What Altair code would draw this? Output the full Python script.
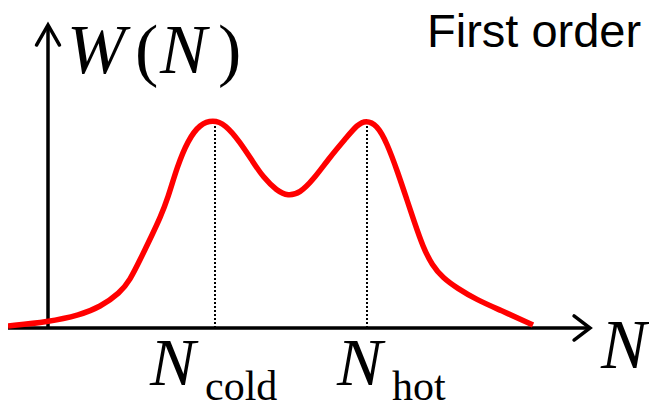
import altair as alt
import pandas as pd

# ---- data (schematic units: N measured from the W axis, W from the N axis) ----
curve_N = [-40, 0, 32, 52, 72, 82, 92, 105, 112, 120, 129, 140, 152, 165, 177, 192, 205, 215,
           229, 240, 252, 265, 282, 299, 309, 318, 329, 339, 350, 359, 366, 375, 384, 395,
           409, 429, 452, 485]
curve_W = [2, 6, 13, 21, 35, 48, 68, 95, 110, 130, 161, 188, 204, 208, 204, 186, 166, 151,
           137, 132, 135, 148, 171, 191, 203, 208, 203, 185, 155, 128, 107, 81, 63, 50,
           40, 28, 18, 3]

peak_N = [167, 319]
peak_W = [203, 203]

axis_N = [-40, 0]
axis_N2 = [542, 0]
axis_W = [0, 0]
axis_W2 = [0, 303]

arrow_N = [542, 0]
arrow_W = [0, 303]
arrow_shape = ["M-1.14,-0.86L0,0L-1.14,0.86", "M-0.82,1.43L0,0L0.82,1.43"]

italic_text = ["W", "N", "N", "N", "N"]
italic_N = [19, 112, 553, 102, 289]
italic_W = [255, 255, -40, -57, -57]
italic_size = [70, 70, 69, 68, 68]

roman_text = ["(", ")", "cold", "hot"]
roman_N = [87, 170, 157, 344]
roman_W = [255, 255, -72, -72]
roman_size = [70, 70, 42, 42]

sans_text = ["First order"]
sans_N = [379]
sans_W = [281]
sans_size = [47]

W_PX, H_PX = 641, 394
xs = alt.Scale(domain=[-40, -40 + W_PX], nice=False, zero=False)
ys = alt.Scale(domain=[-74, -74 + H_PX], nice=False, zero=False)

curve_df = pd.DataFrame({"N": curve_N, "W": curve_W})
peak_df = pd.DataFrame({"N": peak_N, "W": peak_W})
axis_df = pd.DataFrame({"N": axis_N, "N2": axis_N2, "W": axis_W, "W2": axis_W2})
arrow_df = pd.DataFrame({"N": arrow_N, "W": arrow_W, "shape": arrow_shape})
it_df = pd.DataFrame({"t": italic_text, "N": italic_N, "W": italic_W, "s": italic_size})
ro_df = pd.DataFrame({"t": roman_text, "N": roman_N, "W": roman_W, "s": roman_size})
sa_df = pd.DataFrame({"t": sans_text, "N": sans_N, "W": sans_W, "s": sans_size})

X = alt.X("N:Q", scale=xs, axis=None)
Y = alt.Y("W:Q", scale=ys, axis=None)

axes = alt.Chart(axis_df).mark_rule(color="black", strokeWidth=3.5).encode(
    x=X, x2="N2:Q", y=Y, y2="W2:Q")

arrows = alt.Chart(arrow_df).mark_point(
    filled=False, color="black", strokeWidth=3.5, size=784, opacity=1, strokeCap="round",
    strokeJoin="miter").encode(x=X, y=Y, shape=alt.Shape("shape:N", scale=None))

dotted = alt.Chart(peak_df).mark_rule(color="black", strokeWidth=2, strokeDash=[2, 2]).encode(
    x=X, y=alt.Y("zero:Q", scale=ys, axis=None), y2="W:Q").transform_calculate(zero="0")

curve = alt.Chart(curve_df).mark_line(color="#ff0000", strokeWidth=5.5, interpolate="basis").encode(
    x=X, y=Y)

def text_layer(df, font, style):
    kw = dict(align="left", baseline="alphabetic", font=font, color="black")
    if style:
        kw["fontStyle"] = style
    return alt.Chart(df).mark_text(**kw).encode(
        x=X, y=Y, text="t:N", size=alt.Size("s:Q", scale=None, legend=None))

it_layer = text_layer(it_df, "Liberation Serif", "italic")
ro_layer = text_layer(ro_df, "Liberation Serif", None)
sa_layer = text_layer(sa_df, "Liberation Sans", None)

chart = alt.layer(dotted, axes, arrows, curve, it_layer, ro_layer, sa_layer).properties(
    width=W_PX, height=H_PX,
    autosize=alt.AutoSizeParams(type="none"),
    padding=0,
    background="white",
).configure_view(stroke=None)

chart.save("out.html", embed_options={"renderer": "svg", "actions": False})
